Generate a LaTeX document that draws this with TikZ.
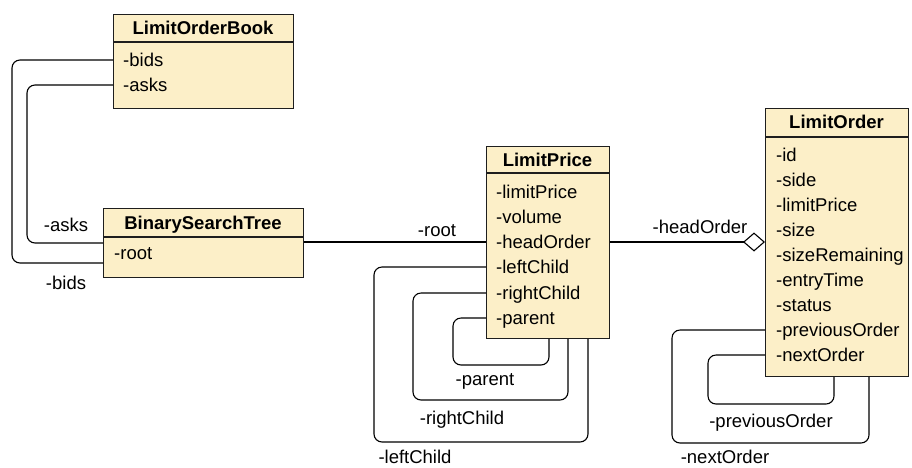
\documentclass[tikz,border=0pt]{standalone}
\usepackage{fontspec}
\setmainfont{Liberation Sans}
\usetikzlibrary{arrows.meta}
\definecolor{boxfill}{HTML}{FCEFC8}
\definecolor{boxline}{HTML}{1E1E1E}
\begin{document}
\begin{tikzpicture}[x=1pt,y=-1pt,
  classbox/.style={draw=boxline, fill=boxfill, line width=1.1pt, inner sep=0pt, anchor=north west},
  sepline/.style={draw=boxline, line width=1.1pt},
  hdr/.style={font=\bfseries\fontsize{18.5}{22}\selectfont, inner sep=0pt, text height=13.2pt, text depth=0pt},
  attr/.style={font=\fontsize{18.5}{22}\selectfont, inner sep=0pt, anchor=west, text height=13.2pt, text depth=0pt},
  lbl/.style={font=\fontsize{18.5}{22}\selectfont, inner sep=0pt, text height=13.2pt, text depth=0pt},
  conn/.style={draw=black, line width=1.1pt, rounded corners=8pt}]
\useasboundingbox (0,0) rectangle (912,467);

% LimitOrderBook
\node[classbox, minimum width=180pt, minimum height=94pt] (lob) at (113,14) {};
\draw[sepline] ([yshift=-28pt]lob.north west) -- ([yshift=-28pt]lob.north east);
\node[hdr] (lobh) at (203,28) {LimitOrderBook};
\node[attr] (lobbids) at (123,60) {-bids};
\node[attr] (lobasks) at (123,85) {-asks};

% BinarySearchTree
\node[classbox, minimum width=200pt, minimum height=69pt] (bst) at (103,208) {};
\draw[sepline] ([yshift=-29pt]bst.north west) -- ([yshift=-29pt]bst.north east);
\node[hdr] (bsth) at (203,222.5) {BinarySearchTree};
\node[attr] (bstroot) at (114,253) {-root};

% LimitPrice
\node[classbox, minimum width=123pt, minimum height=192pt] (lp) at (486,146) {};
\draw[sepline] ([yshift=-27pt]lp.north west) -- ([yshift=-27pt]lp.north east);
\node[hdr] (lph) at (547.5,160) {LimitPrice};
\node[attr] (lplimit) at (496,192) {-limitPrice};
\node[attr] (lpvol) at (496,217) {-volume};
\node[attr] (lphead) at (496,242) {-headOrder};
\node[attr] (lpleft) at (496,267) {-leftChild};
\node[attr] (lpright) at (496,293) {-rightChild};
\node[attr] (lpparent) at (496,318) {-parent};

% LimitOrder
\node[classbox, minimum width=143pt, minimum height=268pt] (lo) at (765,108) {};
\draw[sepline] ([yshift=-29pt]lo.north west) -- ([yshift=-29pt]lo.north east);
\node[hdr] (loh) at (836.5,122) {LimitOrder};
\node[attr] (loid) at (776,155) {-id};
\node[attr] (loside) at (776,180) {-side};
\node[attr] (lolimit) at (776,205) {-limitPrice};
\node[attr] (losize) at (776,230) {-size};
\node[attr] (lorem) at (776,255) {-sizeRemaining};
\node[attr] (loentry) at (776,280) {-entryTime};
\node[attr] (lostatus) at (776,305) {-status};
\node[attr] (loprev) at (776,330) {-previousOrder};
\node[attr] (lonext) at (776,355) {-nextOrder};

% LimitOrderBook -> BinarySearchTree
\draw[conn] (lob.west |- lobbids) -| (12,263) -- ([yshift=-55pt]bst.north west);
\draw[conn] (lob.west |- lobasks) -| (27,243) -- ([yshift=-35pt]bst.north west);
\node[lbl] (lasks) at (66,225) {-asks};
\node[lbl] (lbids) at (66,283) {-bids};

% BinarySearchTree -> LimitPrice
\draw[conn] (bst.east |- lphead) -- (lp.west |- lphead);
\node[lbl] (lroot) at (437,230) {-root};

% LimitPrice -> LimitOrder
\draw[conn, -{Diamond[open, fill=white, length=22pt, width=19pt]}] (lp.east |- lphead) -- (lo.west |- lphead);
\node[lbl] (lhead) at (700,227) {-headOrder};

% LimitPrice self loops
\draw[conn] (lp.west |- lpparent) -| (453,365) -| ([xshift=63pt]lp.south west);
\draw[conn] (lp.west |- lpright) -| (413,400) -| ([xshift=82pt]lp.south west);
\draw[conn] (lp.west |- lpleft) -| (374,442) -| ([xshift=102pt]lp.south west);
\node[lbl] (lparent) at (485,379) {-parent};
\node[lbl] (lright) at (462,418) {-rightChild};
\node[lbl] (lleft) at (415,457) {-leftChild};

% LimitOrder self loops
\draw[conn] (lo.west |- lonext) -| (708,404) -| ([xshift=69pt]lo.south west);
\draw[conn] (lo.west |- loprev) -| (672,443) -| ([xshift=104pt]lo.south west);
\node[lbl] (lprev) at (771,421) {-previousOrder};
\node[lbl] (lnext) at (725,457) {-nextOrder};
\end{tikzpicture}
\end{document}
